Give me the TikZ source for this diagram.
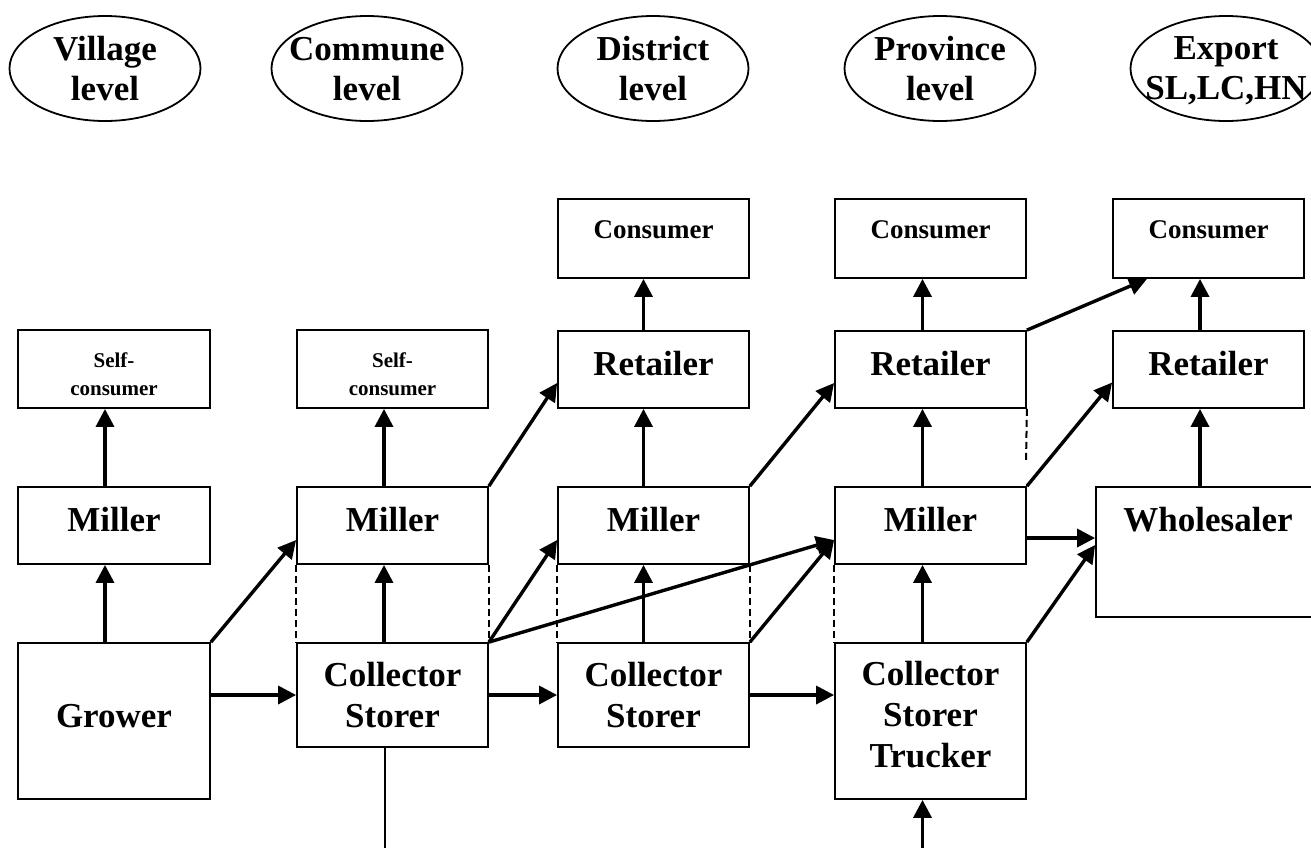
\documentclass[tikz,border=0pt]{standalone}
\usepackage{fontspec}
\setmainfont{Liberation Serif}
\usetikzlibrary{shapes.geometric,arrows.meta}
\begin{document}
\begin{tikzpicture}[x=1pt,y=-1pt,
  lvl/.style={draw, ellipse, line width=1.8pt, minimum width=191pt, minimum height=105pt, inner sep=0pt},
  lvltxt/.style={inner sep=0pt, align=center, font={\bfseries\fontsize{35}{40}\selectfont}, text depth=0pt},
  box/.style={draw, line width=1.8pt, inner sep=0pt, align=center, font={\bfseries\fontsize{35}{41}\selectfont}},
  onel/.style={text height=24pt, text depth=12pt},
  colw/.style={minimum width=191pt},
  consbox/.style={box, colw, minimum height=79pt, font={\bfseries\fontsize{27}{32}\selectfont}, text height=18pt, text depth=19pt},
  selfbox/.style={box, minimum height=78pt, font={\bfseries\fontsize{21}{28}\selectfont}, text height=52pt, text depth=0pt},
  arr/.style={line width=3.4pt, -{Triangle[length=18pt,width=18pt]}},
  plainln/.style={line width=2pt},
  dashln/.style={line width=2pt, dash pattern=on 7pt off 4pt}
]
\useasboundingbox (0,0) rectangle (1311,847);

% level ellipses
\node[lvl] (e1) at (105,68.5) {};
\node[lvltxt] (t1) at (e1) {Village\\level};
\node[lvl] (e2) at (367,68.5) {};
\node[lvltxt] (t2) at (e2) {Commune\\level};
\node[lvl] (e3) at (653,68.5) {};
\node[lvltxt] (t3) at (e3) {District\\level};
\node[lvl] (e4) at (940,68.5) {};
\node[lvltxt] (t4) at (e4) {Province\\level};
\node[lvl] (e5) at (1226,68.5) {};
\node[lvltxt] (t5) at (e5) {Export\\SL,LC,HN};

% consumers
\node[consbox] (cn1) at (653.5,238.5) {Consumer};
\node[consbox] (cn2) at (930.5,238.5) {Consumer};
\node[consbox] (cn3) at (1208.5,238.5) {Consumer};

% self-consumers
\node[selfbox, minimum width=192pt] (sc1) at (114,369) {Self-\\consumer};
\node[selfbox, colw] (sc2) at (392.5,369) {Self-\\consumer};

% retailers
\node[box, onel, colw, minimum height=77pt] (ret1) at (653.5,369.5) {Retailer};
\node[box, onel, colw, minimum height=77pt] (ret2) at (930.5,369.5) {Retailer};
\node[box, onel, colw, minimum height=77pt] (ret3) at (1208.5,369.5) {Retailer};

% millers
\node[box, onel, minimum width=192pt, minimum height=77pt] (mil1) at (114,525.5) {Miller};
\node[box, onel, colw, minimum height=77pt] (mil2) at (392.5,525.5) {Miller};
\node[box, onel, colw, minimum height=77pt] (mil3) at (653.5,525.5) {Miller};
\node[box, onel, colw, minimum height=77pt] (mil4) at (930.5,525.5) {Miller};
\node[box, minimum width=224pt, minimum height=130pt, text height=24pt, text depth=66pt] (whs) at (1208,552) {Wholesaler};

% bottom row
\node[box, onel, minimum width=192pt, minimum height=156pt] (grow) at (114,721) {Grower};
\node[box, colw, minimum height=104pt, text depth=0pt] (col1) at (392.5,695) {Collector\\Storer};
\node[box, colw, minimum height=104pt, text depth=0pt] (col2) at (653.5,695) {Collector\\Storer};
\node[box, colw, minimum height=156pt, text depth=14pt] (cst) at (930.5,721) {Collector\\Storer\\Trucker};

\coordinate (cb) at (384.5,850);
\coordinate (ct) at (922.5,850);
\coordinate (dd) at (1026,462);

% dashed links
\draw[dashln] (mil2.south west) -- (col1.north west);
\draw[dashln] (mil2.south east) -- (col1.north east);
\draw[dashln] (mil3.south west) -- (col2.north west);
\draw[dashln] (mil3.south east) -- (col2.north east);
\draw[dashln] (mil4.south west) -- (cst.north west);
\draw[dashln] (ret2.south east) -- (dd);

% arrows
\draw[arr] ([xshift=-9pt]grow.north) -- ([xshift=-9pt]mil1.south);
\draw[arr] ([xshift=-9pt]mil1.north) -- ([xshift=-9pt]sc1.south);
\draw[arr] (grow.north east) -- ([yshift=-14.5pt]mil2.west);
\draw[arr] ([yshift=26pt]grow.east) -- (col1.west);
\draw[arr] ([xshift=-8.5pt]col1.north) -- ([xshift=-8.5pt]mil2.south);
\draw[arr] ([xshift=-8.5pt]mil2.north) -- ([xshift=-8.5pt]sc2.south);
\draw[arr] (mil2.north east) -- ([yshift=-13.5pt]ret1.west);
\draw[arr] (col1.north east) -- ([yshift=-14.5pt]mil3.west);
\draw[arr] (col1.north east) -- ([yshift=-14.5pt]mil4.west);
\draw[arr] (col1.east) -- (col2.west);
\draw[arr] ([xshift=-10pt]col2.north) -- ([xshift=-10pt]mil3.south);
\draw[arr] ([xshift=-10pt]mil3.north) -- ([xshift=-10pt]ret1.south);
\draw[arr] ([xshift=-10pt]ret1.north) -- ([xshift=-10pt]cn1.south);
\draw[arr] (mil3.north east) -- ([yshift=-13.5pt]ret2.west);
\draw[arr] (col2.north east) -- ([yshift=-14.5pt]mil4.west);
\draw[arr] (col2.east) -- ([yshift=26pt]cst.west);
\draw[arr] ([xshift=-8pt]cst.north) -- ([xshift=-8pt]mil4.south);
\draw[arr] ([xshift=-8pt]mil4.north) -- ([xshift=-8pt]ret2.south);
\draw[arr] ([xshift=-8pt]ret2.north) -- ([xshift=-8pt]cn2.south);
\draw[arr] (ret2.north east) -- ([xshift=-61.5pt]cn3.south);
\draw[arr] (mil4.north east) -- ([yshift=-13pt]ret3.west);
\draw[arr] ([yshift=-12.5pt]mil4.east) -- ([yshift=14pt]whs.west);
\draw[arr] (cst.north east) -- ([yshift=7pt]whs.west);
\draw[arr] ([xshift=-8pt]whs.north) -- ([xshift=-8.5pt]ret3.south);
\draw[arr] ([xshift=-8.5pt]ret3.north) -- ([xshift=-8.5pt]cn3.south);
\draw[plainln] ([xshift=-8pt]col1.south) -- (cb);
\draw[arr] (ct) -- ([xshift=-8pt]cst.south);
\end{tikzpicture}
\end{document}
